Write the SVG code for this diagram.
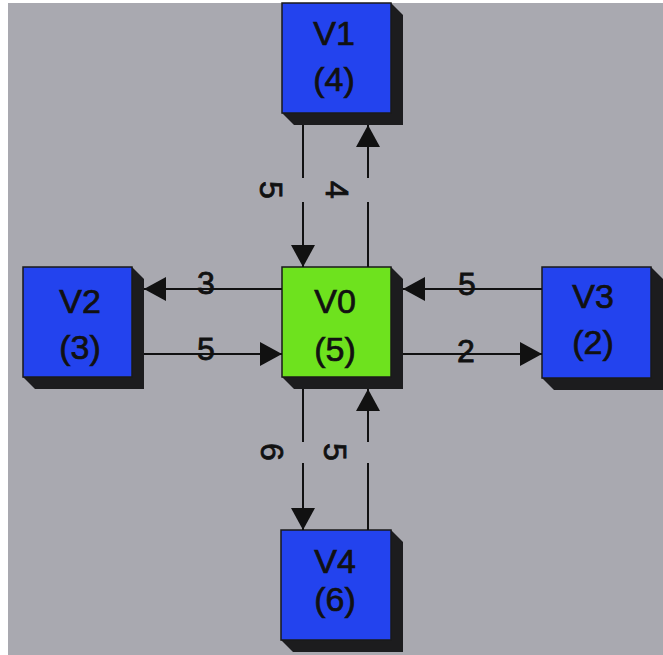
<svg xmlns="http://www.w3.org/2000/svg" width="663" height="655" viewBox="0 0 663 655">
<defs>
<style>
.bg{fill:#a9a9b0}
.face{stroke:#1a1a1a;stroke-width:1.5}
.blue{fill:#2343ee}
.green{fill:#6ee21e}
.side{fill:#1c1c1e}
.nl{font-family:"Liberation Sans",Arial,sans-serif;font-size:34px;fill:#111;stroke:#111;stroke-width:0.7;text-anchor:middle}
.el{font-family:"Liberation Sans",Arial,sans-serif;font-size:32px;fill:#111;stroke:#111;stroke-width:0.8;text-anchor:middle}
.edge{fill:none;stroke:#111;stroke-width:2}
</style>
<marker id="ah" markerUnits="userSpaceOnUse" markerWidth="23" markerHeight="24" refX="22" refY="12" orient="auto">
<path d="M0,0 L22,12 L0,24 Z" fill="#111"/>
</marker>
</defs>
<rect x="0" y="0" width="663" height="655" fill="#ffffff"/>
<rect class="bg" x="8" y="3" width="655" height="652"/>

<g id="V1">
<polygon class="side" points="391,3 403,15 403,125 294,125 282,113"/>
<rect class="face blue" x="282" y="3" width="109" height="110"/>
<text class="nl" x="334" y="45">V1</text>
<text class="nl" x="334" y="91">(4)</text>
</g>
<g id="V0">
<polygon class="side" points="391,267 403,279 403,389 294,389 282,377"/>
<rect class="face green" x="282" y="267" width="109" height="110"/>
<text class="nl" x="335" y="313">V0</text>
<text class="nl" x="335" y="361">(5)</text>
</g>
<g id="V2">
<polygon class="side" points="132,267 144,279 144,389 35,389 23,377"/>
<rect class="face blue" x="23" y="267" width="109" height="110"/>
<text class="nl" x="80" y="313">V2</text>
<text class="nl" x="80" y="359">(3)</text>
</g>
<g id="V3">
<polygon class="side" points="651,267 663,279 663,390 554,390 542,378"/>
<rect class="face blue" x="542" y="267" width="109" height="111"/>
<text class="nl" x="593" y="308">V3</text>
<text class="nl" x="593" y="354">(2)</text>
</g>
<g id="V4">
<polygon class="side" points="391,530 403,542 403,652 293,652 281,640"/>
<rect class="face blue" x="281" y="530" width="110" height="110"/>
<text class="nl" x="335" y="573">V4</text>
<text class="nl" x="335" y="611">(6)</text>
</g>

<g id="connectors">
<path class="edge" d="M303,125 L303,178 M303,202 L303,267" marker-end="url(#ah)"/>
<path class="edge" d="M368,267 L368,202 M368,178 L368,125" marker-end="url(#ah)"/>
<path class="edge" d="M303,389 L303,442 M303,463 L303,530" marker-end="url(#ah)"/>
<path class="edge" d="M368,530 L368,463 M368,442 L368,389" marker-end="url(#ah)"/>
<path class="edge" d="M282,289 L144,289" marker-end="url(#ah)"/>
<path class="edge" d="M144,354 L282,354" marker-end="url(#ah)"/>
<path class="edge" d="M542,289 L403,289" marker-end="url(#ah)"/>
<path class="edge" d="M403,354 L542,354" marker-end="url(#ah)"/>
<text class="el" transform="translate(271,190) rotate(90)" x="0" y="11">5</text>
<text class="el" transform="translate(337,190) rotate(90)" x="0" y="11">4</text>
<text class="el" transform="translate(272,452) rotate(90)" x="0" y="11">6</text>
<text class="el" transform="translate(335,452) rotate(90)" x="0" y="11">5</text>
<text class="el" x="206" y="294">3</text>
<text class="el" x="206" y="360">5</text>
<text class="el" x="467" y="295">5</text>
<text class="el" x="466" y="362">2</text>
</g>
</svg>
